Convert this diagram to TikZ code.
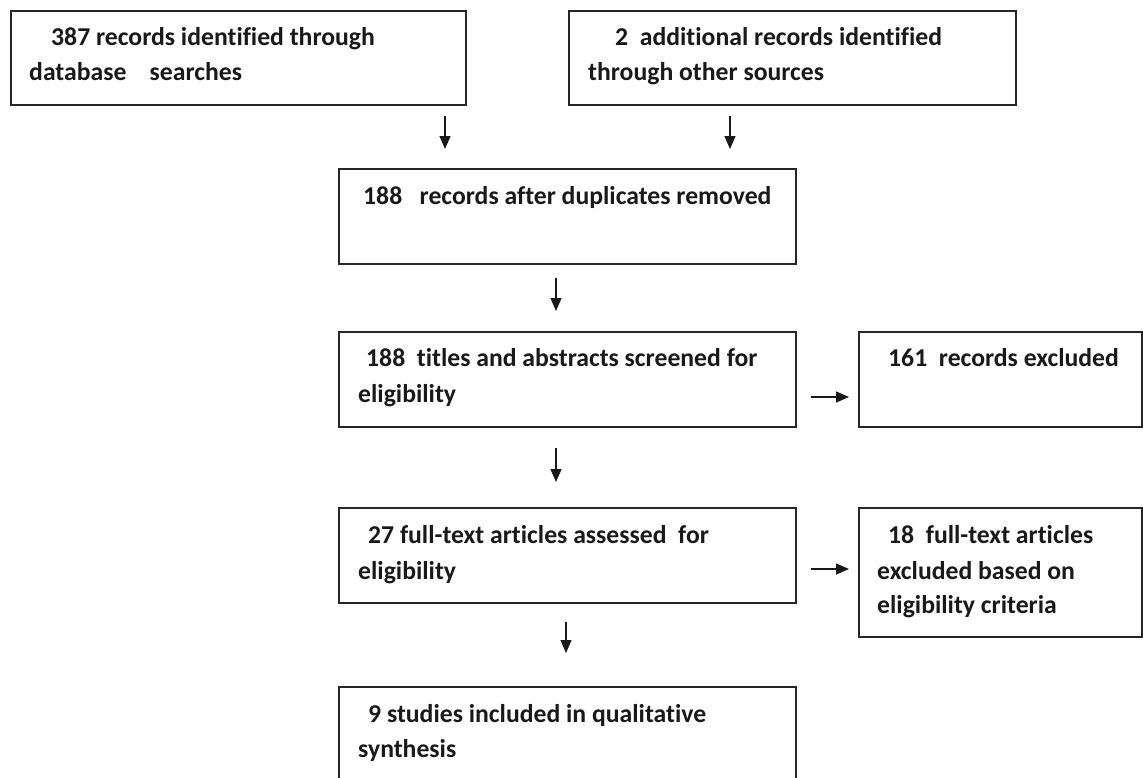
\documentclass[tikz,border=0pt]{standalone}
\usepackage{fontspec}
\setmainfont{Carlito}[Ligatures=NoCommon]
\usetikzlibrary{arrows.meta}
\begin{document}
\begin{tikzpicture}[x=1pt,y=-1pt,
  box/.style={draw=black!85, line width=1.3pt, rectangle, inner sep=0pt, outer sep=0pt},
  txt/.style={anchor=base west, inner sep=0pt, font=\fontsize{25.7}{30}\selectfont\bfseries, text=black!90},
  arr/.style={-{Triangle[length=13pt,width=11pt]}, line width=1.3pt, black!90}]
\useasboundingbox (0,0) rectangle (1143,777);
% boxes
\node[box, minimum width=455pt, minimum height=94pt] (b1) at (238.5,58) {};
\node[box, minimum width=447pt, minimum height=94pt] (b2) at (792.5,58) {};
\node[box, minimum width=457pt, minimum height=95pt] (b3) at (567.5,216.5) {};
\node[box, minimum width=457pt, minimum height=95pt] (b4) at (567.5,379.5) {};
\node[box, minimum width=283pt, minimum height=95pt] (b5) at (1000.5,379.5) {};
\node[box, minimum width=457pt, minimum height=95pt] (b6) at (567.5,555.5) {};
\node[box, minimum width=283pt, minimum height=129pt] (b7) at (1000.5,572.5) {};
\node[box, minimum width=457pt, minimum height=113pt] (b8) at (567.5,743.5) {};
% texts
\node[txt] (t1a) at (51,45) {387 records identified through};
\node[txt] (t1b) at (29,80) {database\ \ \ \ searches};
\node[txt] (t2a) at (615,45) {2\ \ additional records identified};
\node[txt] (t2b) at (588,80) {through other sources};
\node[txt] (t3a) at (363,204) {188\ \ \ records after duplicates removed};
\node[txt] (t4a) at (366,366) {188\ \ titles and abstracts screened for};
\node[txt] (t4b) at (358,402) {eligibility};
\node[txt] (t5a) at (888,366) {161\ \ records excluded};
\node[txt] (t6a) at (368,543) {27 full-text articles assessed\ \ for};
\node[txt] (t6b) at (358,579) {eligibility};
\node[txt] (t7a) at (888,543) {18\ \ full-text articles};
\node[txt] (t7b) at (877,579) {excluded based on};
\node[txt] (t7c) at (877,613) {eligibility criteria};
\node[txt] (t8a) at (368,722) {9 studies included in qualitative};
\node[txt] (t8b) at (358,757) {synthesis};
% arrows
\draw[arr, shorten <=11pt, shorten >=20pt] (b1.south -| 445,0) -- (b3.north -| 445,0);
\draw[arr, shorten <=11pt, shorten >=20pt] (b2.south -| 730,0) -- (b3.north -| 730,0);
\draw[arr, shorten <=14pt, shorten >=21pt] (b3.south -| 556,0) -- (b4.north -| 556,0);
\draw[arr, shorten <=21pt, shorten >=26pt] (b4.south -| 556,0) -- (b6.north -| 556,0);
\draw[arr, shorten <=19pt, shorten >=34pt] (b6.south -| 566,0) -- (b8.north -| 566,0);
\draw[arr, shorten <=15pt, shorten >=10pt] (b4.east |- 0,397) -- (b5.west |- 0,397);
\draw[arr, shorten <=15pt, shorten >=10pt] (b6.east |- 0,569) -- (b7.west |- 0,569);
\end{tikzpicture}
\end{document}
